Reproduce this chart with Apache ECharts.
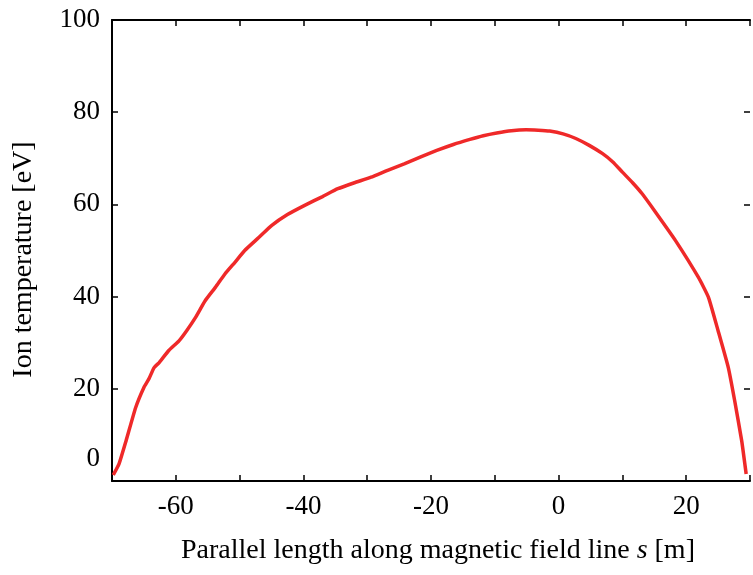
<!DOCTYPE html>
<html>
<head>
<meta charset="utf-8">
<script src="https://cdn.jsdelivr.net/npm/echarts@6/dist/echarts.min.js"></script>
<style>html,body{margin:0;padding:0;background:#fff}#c{width:753px;height:575px}</style>
</head>
<body>
<div id="c"></div>
<script>
const sValues = [-69.8,-68.9,-67.8,-66.3,-65.0,-64.2,-63.4,-62.6,-61.1,-59.5,-58.3,-56.9,-55.4,-53.8,-52.3,-50.7,-49.2,-47.0,-45.0,-42.5,-39.8,-37.0,-34.6,-32.0,-29.4,-26.8,-24.2,-21.6,-19.1,-16.5,-13.9,-11.8,-9.7,-7.4,-5.1,-3.2,-1.4,0.7,2.7,4.8,6.9,8.5,10.0,11.6,13.1,15.2,18.3,21.9,23.5,25.0,26.6,27.6,28.7,29.4];
const ionTemp = [1.3,3.7,8.7,15.9,20.3,22.2,24.6,25.7,28.3,30.4,32.6,35.5,39.1,42.0,44.9,47.5,50.0,52.8,55.4,57.8,59.8,61.7,63.4,64.7,65.9,67.4,68.8,70.3,71.7,73.0,74.1,74.9,75.5,76.0,76.2,76.1,75.9,75.3,74.3,72.8,71.0,69.2,67.0,64.7,62.3,58.3,52.2,44.2,39.8,32.6,24.6,17.4,8.7,1.5];
const xTickLabels = [-60,-40,-20,0,20];
const yTickLabels = [0,20,40,60,80,100];

const font = 'Liberation Serif';
const chart = echarts.init(document.getElementById('c'), null, {renderer:'canvas'});
const tickStyle = {show:true, inside:true, length:6, lineStyle:{color:'#000', width:1.5}};
chart.setOption({
  animation:false,
  backgroundColor:'#fff',
  grid:{left:112, right:-1, top:20, bottom:94, containLabel:false},
  xAxis:[{
    type:'value', min:-70, max:30, interval:10, position:'bottom',
    axisLine:{show:true, onZero:false, lineStyle:{color:'#000', width:2}},
    axisTick:tickStyle,
    splitLine:{show:false},
    axisLabel:{fontFamily:font, fontSize:27, color:'#000', margin:12,
      formatter:v => xTickLabels.includes(v) ? String(v) : ''},
    name:'Parallel length along magnetic field line {i|s} [m]',
    nameLocation:'middle', nameGap:56,
    nameTextStyle:{fontFamily:font, fontSize:28, color:'#000', padding:[0,0,0,14],
      rich:{i:{fontFamily:font, fontSize:28, fontStyle:'italic', color:'#000'}}}
  },{
    type:'value', min:-70, max:30, interval:10, position:'top',
    axisLine:{show:true, onZero:false, lineStyle:{color:'#000', width:2}},
    axisTick:tickStyle, axisLabel:{show:false}, splitLine:{show:false}
  }],
  yAxis:[{
    type:'value', min:0, max:100, interval:20, position:'left',
    axisLine:{show:true, onZero:false, lineStyle:{color:'#000', width:2}},
    axisTick:tickStyle,
    splitLine:{show:false},
    axisLabel:{fontFamily:font, fontSize:27, color:'#000', margin:12,
      formatter:v => yTickLabels.includes(v) ? (v === 0 ? '{z|0}' : String(v)) : '',
      rich:{z:{fontFamily:font, fontSize:27, color:'#000', padding:[0,0,44,0]}}},
    name:'Ion temperature [eV]', nameLocation:'middle', nameGap:74, nameRotate:90,
    nameTextStyle:{fontFamily:font, fontSize:28, color:'#000', padding:[0,18,0,0]}
  },{
    type:'value', min:0, max:100, interval:20, position:'right',
    axisLine:{show:false, onZero:false}, axisTick:tickStyle, axisLabel:{show:false}, splitLine:{show:false}
  }],
  series:[{
    type:'line', xAxisIndex:0, yAxisIndex:0,
    data:sValues.map((s,i)=>[s, ionTemp[i]]),
    showSymbol:false, smooth:0.15, clip:false,
    lineStyle:{color:'#ef2929', width:3.5}
  }]
});
</script>
</body>
</html>
